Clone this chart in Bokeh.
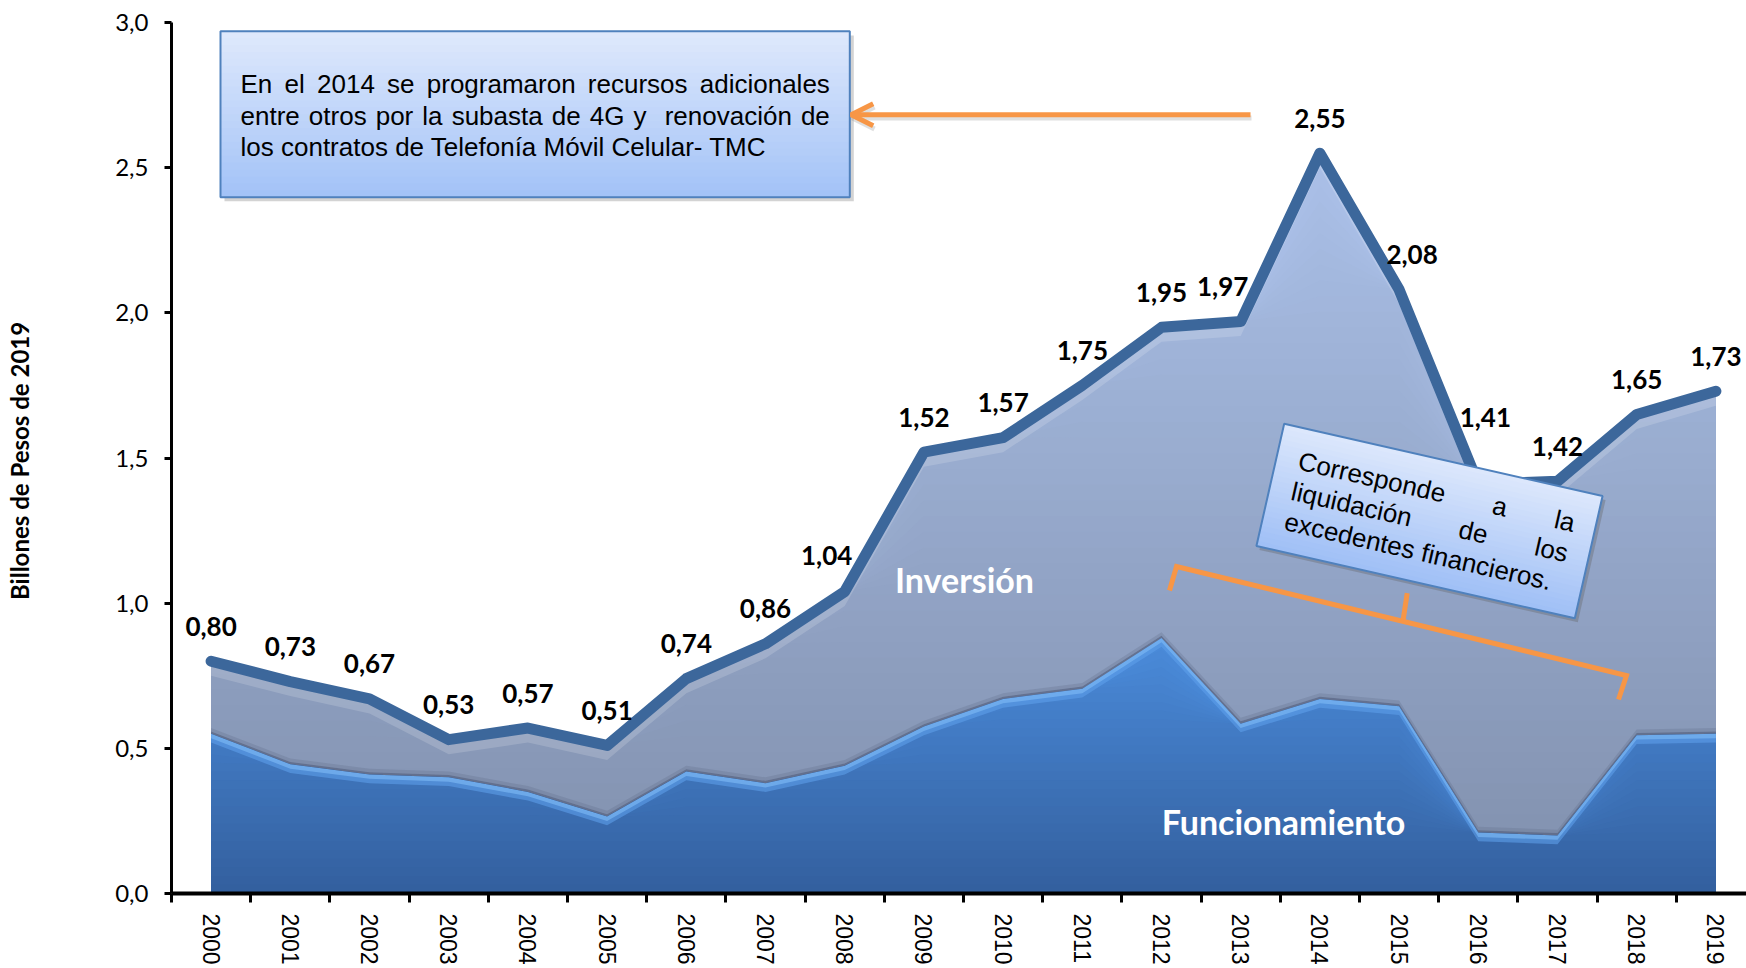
import math
import numpy as np
from bokeh.plotting import figure
from bokeh.models import FixedTicker, CustomJSTickFormatter, Range1d, Arrow, OpenHead
from bokeh.core.properties import value
from bokeh.embed import file_html
from bokeh.resources import INLINE

# ---------------- data ----------------
years = list(range(2000, 2020))
total = [0.80, 0.73, 0.67, 0.53, 0.57, 0.51, 0.74, 0.86, 1.04, 1.52,
         1.57, 1.75, 1.95, 1.97, 2.55, 2.08, 1.41, 1.42, 1.65, 1.73]
funcionamiento = [0.55, 0.445, 0.41, 0.40, 0.35, 0.265, 0.42, 0.38, 0.44, 0.575,
                  0.67, 0.705, 0.88, 0.585, 0.67, 0.645, 0.21, 0.20, 0.545, 0.55]
y_ticks = [0.0, 0.5, 1.0, 1.5, 2.0, 2.5, 3.0]
y_title = "Billones  de Pesos de 2019"
serie_labels = ["Inversión", "Funcionamiento"]
box1_lines = ["En el 2014 se programaron recursos adicionales",
              "entre otros por la subasta de 4G y  renovación de",
              "los contratos de Telefonía Móvil Celular- TMC"]
box2_lines = ["Corresponde a la", "liquidación de los", "excedentes financieros."]

# ---------------- layout / style ----------------
OFF = 0
W, H = 1746, 968
BL, BR, BT = 171, 0, 22
FH = 871
BB = H - BT - FH
FL = OFF + BL
FB = OFF + BT + FH
FW = W - BL - BR
X0 = 1999.5
SX = 79.2
X1 = X0 + FW / SX
SY = FH / 3.0

def to_data(px, py):
    return X0 + (px - FL) / SX, (FB - py) / SY

def lerp(c1, c2, t):
    t = max(0.0, min(1.0, t))
    a = [int(c1[i:i + 2], 16) for i in (1, 3, 5)]
    b = [int(c2[i:i + 2], 16) for i in (1, 3, 5)]
    return "#%02x%02x%02x" % tuple(int(round(a[i] + (b[i] - a[i]) * t)) for i in range(3))

ORANGE = "#f79646"
LINE_C = "#3c679b"
ARIAL = {' ': 278, ',': 278, '-': 333, '.': 278, 'A': 667, 'C': 722, 'E': 667, 'G': 778,
         'M': 833, 'T': 611, 'a': 556, 'b': 556, 'c': 500, 'd': 556, 'e': 556, 'f': 278,
         'g': 556, 'i': 222, 'l': 222, 'm': 833, 'n': 556, 'o': 556, 'p': 556, 'q': 556,
         'r': 333, 's': 500, 't': 278, 'u': 556, 'v': 500, 'x': 500, 'y': 500, 'á': 556,
         'í': 278, 'ó': 556}
for d in "0123456789":
    ARIAL[d] = 556

def tw(s, size):
    return sum(ARIAL.get(c, 556) for c in s) / 1000.0 * size

p = figure(width=W, height=H, x_range=Range1d(X0, X1), y_range=Range1d(0, 3.0),
           output_backend="svg", toolbar_location=None, title=None,
           min_border_left=BL, min_border_right=BR, min_border_top=BT, min_border_bottom=BB)
p.outline_line_color = None
p.grid.visible = False
p.background_fill_color = "white"
p.border_fill_color = "white"

yrs = np.array(years, dtype=float)
tot = np.array(total)
fun = np.array(funcionamiento)

# ---- Inversión area (total) with vertical gradient ----
N1 = 48
top1 = 2.6
for k in range(N1, 0, -1):
    b = top1 * k / N1 if k < N1 else 3.0
    col = lerp("#808fac", "#abc1e9", (k - 0.5) / N1)
    p.varea(x=yrs, y1=np.zeros_like(tot), y2=np.minimum(tot, b), fill_color=col)
p.varea(x=yrs, y1=tot - 0.05, y2=tot, fill_color="white", fill_alpha=0.16)

# ---- Funcionamiento area with gradient ----
N2 = 30
top2 = 0.9
for k in range(N2, 0, -1):
    b = top2 * k / N2 if k < N2 else 3.0
    col = lerp("#335f9e", "#4b8cdb", (k - 0.5) / N2)
    p.varea(x=yrs, y1=np.zeros_like(fun), y2=np.minimum(fun, b), fill_color=col)
p.varea(x=yrs, y1=fun - 0.03, y2=fun, fill_color="#5d9fea", fill_alpha=0.6)
p.varea(x=yrs, y1=fun - 0.015, y2=fun, fill_color="#7cb8f4", fill_alpha=0.65)
p.varea(x=yrs, y1=fun, y2=fun + 0.008, fill_color="#5a6784", fill_alpha=0.8)
p.varea(x=yrs, y1=fun + 0.008, y2=fun + 0.02, fill_color="#5a6784", fill_alpha=0.25)

# ---- total line ----
p.line(yrs, tot, line_width=11, line_color=LINE_C, line_join="round", line_cap="round")

# ---- data labels ----
nudge = {2008: (-18, 36), 2013: (-18, 35), 2015: (13, 35), 2016: (7, 67)}
lx, ly, lt = [], [], []
for yv, tv in zip(years, total):
    dx, dy = nudge.get(yv, (0, 35))
    lx.append(yv + dx / SX)
    ly.append(tv + dy / SY)
    lt.append(("%.2f" % tv).replace(".", ","))
p.text(x=lx, y=ly, text=lt, text_font=value("Lato"), text_font_style="bold",
       text_font_size="26px", text_align="center", text_baseline="middle", text_color="black")

# ---- series names ----
ix, iy = to_data(964, 579)
fx, fy = to_data(1283, 821)
p.text(x=[ix, fx], y=[iy, fy], text=serie_labels, text_font=value("Lato"), text_font_style="bold",
       text_font_size="34px", text_align="center", text_baseline="middle", text_color="white")

# ---- box 1 (upper left) ----
bl, bt = to_data(220, 30.7)
br, bb = to_data(849.3, 196.7)
sl, st = to_data(224, 35)
sr, sb = to_data(853.3, 200.7)
p.quad(left=[sl], right=[sr], top=[st], bottom=[sb], fill_color="#808080", fill_alpha=0.35, line_color=None)
NB = 24
for j in range(NB, 0, -1):
    yb = bt - (bt - bb) * j / NB
    col = lerp("#dfe9fc", "#a2c2f7", (j - 0.5) / NB)
    p.quad(left=[bl], right=[br], top=[bt], bottom=[yb], fill_color=col, line_color=None)
p.quad(left=[bl], right=[br], top=[bt], bottom=[bb], fill_color=None, line_color="#4f81bd", line_width=2)

FS1 = 26
x_left, x_right = 240.0, 829.3
baselines = [83.5, 115.0, 146.5]
wx, wy, wt = [], [], []
for li, line in enumerate(box1_lines):
    if li < 2:
        words = line.split(" ")
        widths = [tw(w, FS1) for w in words]
        gap = (x_right - x_left - sum(widths)) / (len(words) - 1)
        cx = x_left
        for w, wd in zip(words, widths):
            if w:
                dxp, dyp = to_data(cx, baselines[li])
                wx.append(dxp); wy.append(dyp); wt.append(w)
            cx += wd + gap
    else:
        dxp, dyp = to_data(x_left, baselines[li])
        wx.append(dxp); wy.append(dyp); wt.append(line)
p.text(x=wx, y=wy, text=wt, text_font=value("Liberation Sans"), text_font_size="%dpx" % FS1,
       text_align="left", text_baseline="alphabetic", text_color="black")

# ---- arrow ----
ax0, ay0 = to_data(1250, 114.3)
ax1, ay1 = to_data(850.7, 114.3)
sax0, say0 = to_data(1251, 117.5)
sax1, say1 = to_data(852, 117.5)
p.add_layout(Arrow(end=OpenHead(size=22, line_width=5, line_color="#7f7f7f", line_alpha=0.25),
                   x_start=sax0, y_start=say0, x_end=sax1, y_end=say1,
                   line_width=5, line_color="#7f7f7f", line_alpha=0.25))
p.add_layout(Arrow(end=OpenHead(size=22, line_width=5, line_color=ORANGE),
                   x_start=ax0, y_start=ay0, x_end=ax1, y_end=ay1,
                   line_width=5, line_color=ORANGE))

# ---- bracket ----
bpts = [(1169, 590), (1176, 566), (1626, 675), (1618, 699)]
p.line([to_data(a, b)[0] for a, b in bpts], [to_data(a, b)[1] for a, b in bpts],
       line_width=5, line_color=ORANGE, line_join="miter")
mpts = [(1402.7, 619.0), (1406.7, 592.7)]
p.line([to_data(a, b)[0] for a, b in mpts], [to_data(a, b)[1] for a, b in mpts],
       line_width=5, line_color=ORANGE)

# ---- box 2 (rotated) ----
th = math.radians(12.8)
cs, sn = math.cos(th), math.sin(th)
CX, CY = 1429.0, 520.5
BW2, BH2 = 326.5, 125.3

def local(u, v):
    return to_data(CX + u * cs - v * sn, CY + u * sn + v * cs)

shx, shy = to_data(CX + 3, CY + 4)
p.rect(x=[shx], y=[shy], width=[BW2], height=[BH2], width_units="screen", height_units="screen",
       angle=-th, fill_color="#606060", fill_alpha=0.35, line_color=None)
for j in range(NB, 0, -1):
    hj = BH2 * j / NB
    vc = -BH2 / 2 + hj / 2
    rx, ry = local(0, vc)
    col = lerp("#dde8fc", "#9fbff6", (j - 0.5) / NB)
    p.rect(x=[rx], y=[ry], width=[BW2], height=[hj], width_units="screen", height_units="screen",
           angle=-th, fill_color=col, line_color=None)
cx2, cy2 = local(0, 0)
p.rect(x=[cx2], y=[cy2], width=[BW2], height=[BH2], width_units="screen", height_units="screen",
       angle=-th, fill_color=None, line_color="#4f81bd", line_width=2)

u_left, u_right = -141.0, 142.0
vlines = [-30.0, 1.0, 32.0]
tx, ty, tt = [], [], []
for li, line in enumerate(box2_lines):
    if li < 2:
        words = line.split(" ")
        widths = [tw(w, FS1) for w in words]
        gap = (u_right - u_left - sum(widths)) / (len(words) - 1)
        cu = u_left
        for w, wd in zip(words, widths):
            px_, py_ = local(cu, vlines[li])
            tx.append(px_); ty.append(py_); tt.append(w)
            cu += wd + gap
    else:
        px_, py_ = local(u_left, vlines[li])
        tx.append(px_); ty.append(py_); tt.append(line)
p.text(x=tx, y=ty, text=tt, angle=-th, text_font=value("Liberation Sans"), text_font_size="%dpx" % FS1,
       text_align="left", text_baseline="alphabetic", text_color="black")

# ---- axes ----
p.yaxis.ticker = FixedTicker(ticks=y_ticks)
p.yaxis.formatter = CustomJSTickFormatter(code="return tick.toFixed(1).replace('.', ',');")
p.yaxis.major_label_text_font = "Lato"
p.yaxis.major_label_text_font_size = "24px"
p.yaxis.major_label_text_color = "black"
p.yaxis.major_label_standoff = 16
p.yaxis.major_tick_out = 7
p.yaxis.major_tick_in = 0
p.yaxis.major_tick_line_width = 3
p.yaxis.major_tick_line_color = "black"
p.yaxis.minor_tick_out = 0
p.yaxis.minor_tick_in = 0
p.yaxis.axis_line_width = 3
p.yaxis.axis_line_color = "black"
p.yaxis.axis_label = y_title
p.yaxis.axis_label_text_font = "Lato"
p.yaxis.axis_label_text_font_style = "bold"
p.yaxis.axis_label_text_font_size = "24px"
p.yaxis.axis_label_text_color = "black"
p.yaxis.axis_label_standoff = 78

p.xaxis.ticker = FixedTicker(ticks=years, minor_ticks=[y - 0.5 for y in years] + [years[-1] + 0.5])
p.xaxis.formatter = CustomJSTickFormatter(code="return tick.toFixed(0);")
p.xaxis.major_label_orientation = "vertical"
p.xaxis.major_label_text_font = "Liberation Sans"
p.xaxis.major_label_text_font_size = "23px"
p.xaxis.major_label_text_color = "black"
p.xaxis.major_label_standoff = 11
p.xaxis.major_tick_out = 0
p.xaxis.major_tick_in = 0
p.xaxis.minor_tick_out = 9
p.xaxis.minor_tick_in = 0
p.xaxis.minor_tick_line_width = 3
p.xaxis.minor_tick_line_color = "black"
p.xaxis.axis_line_width = 4
p.xaxis.axis_line_color = "black"

open("out.html", "w").write(file_html(p, INLINE))
